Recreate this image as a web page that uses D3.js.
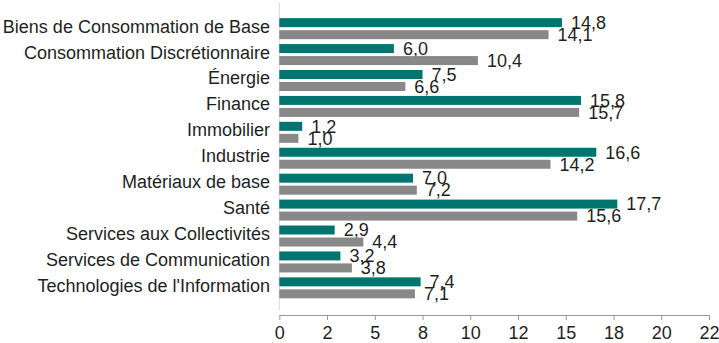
<!DOCTYPE html>
<html>
<head>
<meta charset="utf-8">
<script src="https://cdn.jsdelivr.net/npm/d3@7"></script>
<style>
  html, body { margin: 0; padding: 0; background: #fff; }
  svg { display: block; }
  text { font-family: "Liberation Sans", Arial, sans-serif; fill: #1f1f1f; }
</style>
</head>
<body>
<svg id="chart" width="719" height="343"></svg>
<script>
// Secteurs (ordre d'affichage, de haut en bas)
const categories = [
  "Biens de Consommation de Base",
  "Consommation Discrétionnaire",
  "Énergie",
  "Finance",
  "Immobilier",
  "Industrie",
  "Matériaux de base",
  "Santé",
  "Services aux Collectivités",
  "Services de Communication",
  "Technologies de l'Information"
];

// Première série (sarcelle) et seconde série (gris)
const seriesTeal = [14.8, 6.0, 7.5, 15.8, 1.2, 16.6, 7.0, 17.7, 2.9, 3.2, 7.4];
const seriesGray = [14.1, 10.4, 6.6, 15.7, 1.0, 14.2, 7.2, 15.6, 4.4, 3.8, 7.1];

// Graduations de l'axe horizontal et leurs libellés arrondis
const tickValues = [0, 2.5, 5, 7.5, 10, 12.5, 15, 17.5, 20, 22.5];
const tickLabels = ["0", "2", "5", "8", "10", "12", "15", "18", "20", "22"];

const colors = { teal: "#00756f", gray: "#888888" };

const svg = d3.select("#chart");
const W = 719, H = 343;
const plot = { left: 279.3, right: 709, top: 15.7, bottom: 300.8, axisY: 315 };

const x = d3.scaleLinear().domain([0, 22.5]).range([plot.left, plot.right]);
const y = d3.scaleBand().domain(categories).range([plot.top, plot.bottom])
  .paddingInner(0.19).paddingOuter(0.095);
const ySeries = d3.scaleBand().domain(["teal", "gray"]).range([0, y.bandwidth()])
  .paddingInner(0.25);

const fmt = v => d3.format(".1f")(v).replace(".", ",");

// Ligne verticale de l'axe des catégories
svg.append("line")
  .attr("x1", x(0)).attr("x2", x(0))
  .attr("y1", 3).attr("y2", 310)
  .attr("stroke", "#d9d9d9").attr("stroke-width", 1);

// Barres
const rows = categories.map((c, i) => ({ cat: c, teal: seriesTeal[i], gray: seriesGray[i] }));
const groups = svg.append("g").selectAll("g").data(rows).join("g")
  .attr("transform", d => `translate(0,${y(d.cat)})`);

["teal", "gray"].forEach(key => {
  groups.append("rect")
    .attr("x", x(0))
    .attr("y", ySeries(key))
    .attr("width", d => x(d[key]) - x(0))
    .attr("height", ySeries.bandwidth())
    .attr("fill", colors[key]);

  groups.append("text")
    .attr("x", d => x(d[key]) + 9)
    .attr("y", ySeries(key) + ySeries.bandwidth() / 2)
    .attr("dy", "0.35em")
    .attr("font-size", 18)
    .text(d => fmt(d[key]));
});

// Libellés des catégories
svg.append("g").selectAll("text").data(categories).join("text")
  .attr("x", 270)
  .attr("y", d => y(d) + y.bandwidth() / 2)
  .attr("dy", "0.22em")
  .attr("text-anchor", "end")
  .attr("font-size", 18)
  .text(d => d);

// Axe horizontal
const xAxis = d3.axisBottom(x)
  .tickValues(tickValues)
  .tickFormat((d, i) => tickLabels[i])
  .tickSizeInner(5)
  .tickSizeOuter(0)
  .tickPadding(6);

const gx = svg.append("g")
  .attr("transform", `translate(0,${plot.axisY})`)
  .call(xAxis);
gx.select(".domain").attr("stroke", "#999");
gx.selectAll(".tick line").attr("stroke", "#999");
gx.selectAll(".tick text")
  .attr("font-size", 18)
  .attr("font-family", "Liberation Sans, Arial, sans-serif")
  .attr("fill", "#1f1f1f");
</script>
</body>
</html>
